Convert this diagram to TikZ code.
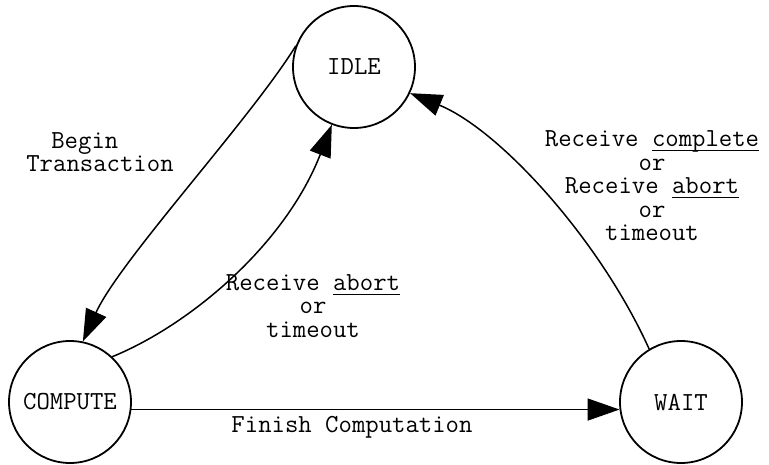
\documentclass[tikz,border=0pt]{standalone}
\usetikzlibrary{arrows.meta}
\newcommand{\myul}[1]{{\setbox0\hbox{#1}\rlap{\rule[-4.5pt]{\wd0}{1.2pt}}\box0}}
\tikzset{
  state/.style={circle, draw, line width=1.8pt, minimum size=122pt, inner sep=0pt,
    font=\ttfamily\fontsize{26}{23.5}\selectfont},
  lbl/.style={align=center, inner sep=0pt, font=\ttfamily\fontsize{26}{23.5}\selectfont},
  conn/.style={line width=1.5pt, -{Triangle[length=32pt,width=22pt]}}
}
\begin{document}
\begin{tikzpicture}[x=1pt,y=-1pt]
\useasboundingbox (0,0) rectangle (769,465);
\node[state] (idle) at (354,67) {IDLE};
\node[state] (compute) at (70,402) {COMPUTE};
\node[state] (wait) at (681,402) {WAIT};

\draw[conn] (idle.160) .. controls (250,120) and (120,260) .. (compute.78);
\draw[conn] (compute.47) .. controls (190,325) and (285,245) .. (idle.-111);
\draw[conn] (wait.121) .. controls (600,240) and (500,130) .. (idle.-25);
\draw[conn] (compute.-7.5) -- (wait.187.5);

\node[lbl, align=left] (lbegin) at (100,152) {\hspace*{25pt}Begin\\Transaction};
\node[lbl] (labort) at (313,306) {Receive \myul{abort}\\or\\timeout};
\node[lbl] (lcomplete) at (652,186) {Receive \myul{complete}\\or\\Receive \myul{abort}\\or\\timeout};
\node[lbl] (lfinish) at (352,427) {Finish Computation};
\end{tikzpicture}
\end{document}
